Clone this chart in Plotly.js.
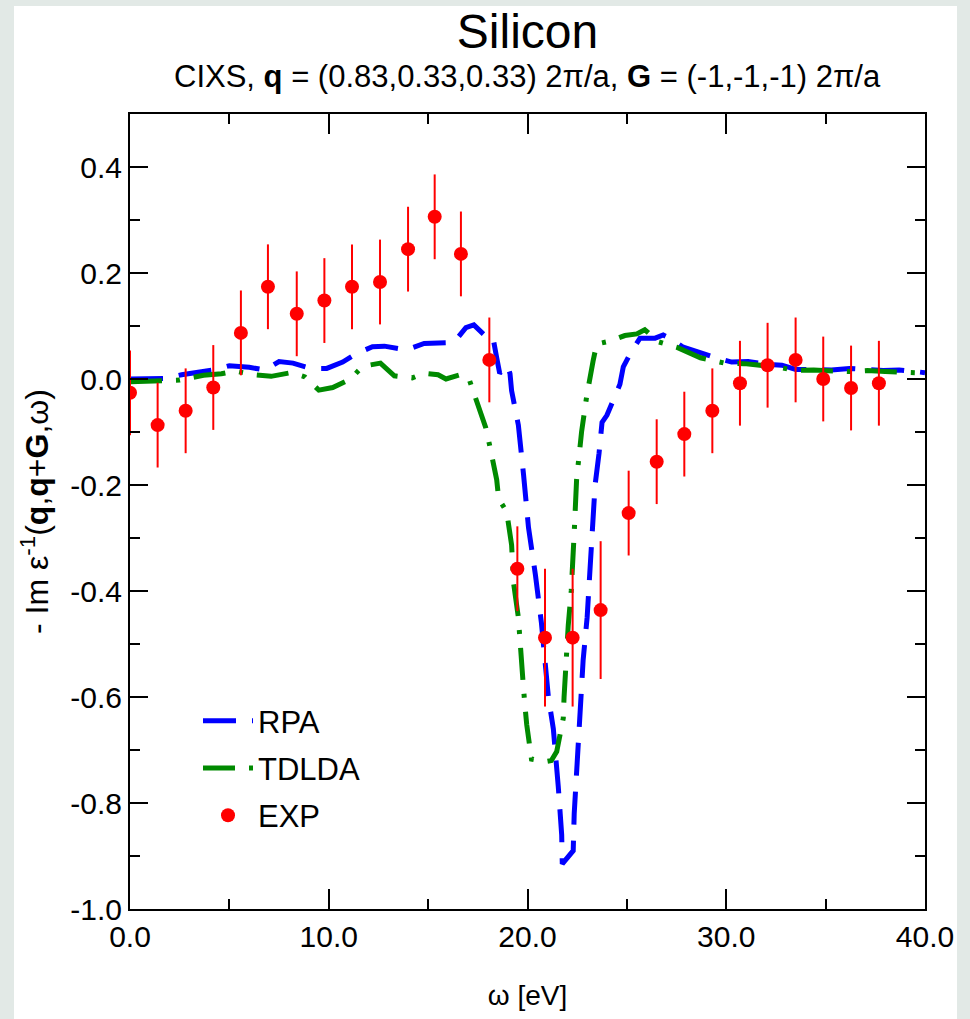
<!DOCTYPE html>
<html>
<head>
<meta charset="utf-8">
<script src="https://cdn.plot.ly/plotly-3.0.1.min.js"></script>
<style>html,body{margin:0;padding:0;background:#e2e9e6;}</style>
</head>
<body>
<div id="chart" style="width:970px;height:1019px;"></div>
<script>
// ---- Data ----
const rpaX = [0.0,1.7,2.6,4.2,5.0,6.0,6.8,7.5,8.2,9.1,9.9,10.7,11.4,12.2,12.8,13.9,14.8,15.6,16.3,16.9,17.3,17.8,18.25,18.45,18.6,19.0,19.12,19.2,19.54,19.8,20.05,20.4,20.7,21.05,21.3,21.55,21.72,21.75,22.3,22.35,22.47,22.65,22.8,23.0,23.2,23.4,23.6,23.75,24.0,24.65,24.82,25.2,25.66,26.0,26.42,26.83,27.17,27.84,28.6,29.5,30.27,31.1,32.0,32.8,33.5,35.3,36.2,37.9,38.7,40.0];
const rpaY = [0.000,0.001,0.008,0.017,0.025,0.022,0.017,0.033,0.030,0.020,0.020,0.032,0.048,0.061,0.062,0.055,0.067,0.068,0.069,0.097,0.102,0.084,0.081,0.040,0.011,0.026,0.010,-0.022,-0.087,-0.180,-0.280,-0.370,-0.460,-0.600,-0.660,-0.770,-0.860,-0.915,-0.890,-0.820,-0.746,-0.650,-0.530,-0.450,-0.330,-0.200,-0.140,-0.082,-0.068,-0.010,0.023,0.050,0.077,0.078,0.077,0.083,0.077,0.060,0.050,0.040,0.032,0.033,0.028,0.026,0.018,0.017,0.020,0.016,0.017,0.012];

const tdldaX = [0.0,2.5,3.7,4.6,5.3,6.2,7.1,8.1,8.8,9.5,10.2,11.1,11.7,12.6,13.3,14.2,14.8,15.5,15.9,16.7,17.05,17.6,17.9,18.1,18.45,18.55,18.95,19.2,19.3,19.54,19.62,19.8,19.87,19.96,20.2,20.9,21.2,21.47,21.8,21.84,22.05,22.2,22.35,22.47,22.72,22.98,23.3,23.48,24.2,24.9,25.5,25.9,26.6,27.5,28.7,29.9,30.9,32.5,33.5,34.4,36.1,37.1,38.0,40.0];
const tdldaY = [-0.005,-0.002,0.007,0.010,0.015,0.008,0.005,0.012,0.004,-0.021,-0.016,0.000,0.024,0.030,0.006,0.002,0.011,0.008,0.000,0.009,0.001,-0.058,-0.092,-0.126,-0.190,-0.226,-0.250,-0.313,-0.385,-0.450,-0.500,-0.584,-0.616,-0.652,-0.717,-0.722,-0.720,-0.703,-0.640,-0.600,-0.465,-0.400,-0.290,-0.190,-0.100,-0.032,0.034,0.066,0.072,0.082,0.085,0.093,0.070,0.060,0.040,0.030,0.029,0.023,0.016,0.017,0.014,0.016,0.014,0.011];

const expX = [0.0,1.39,2.8,4.19,5.58,6.94,8.39,9.78,11.17,12.58,13.99,15.33,16.65,18.08,19.49,20.88,22.27,23.68,25.09,26.5,27.89,29.3,30.69,32.08,33.49,34.88,36.28,37.68];
const expY = [-0.026,-0.087,-0.060,-0.016,0.087,0.174,0.123,0.148,0.174,0.183,0.245,0.306,0.236,0.036,-0.358,-0.488,-0.488,-0.436,-0.253,-0.156,-0.104,-0.060,-0.008,0.026,0.036,0.000,-0.017,-0.008];
const expErr = [0.08,0.08,0.08,0.08,0.08,0.08,0.08,0.08,0.08,0.08,0.08,0.08,0.08,0.08,0.08,0.13,0.13,0.13,0.08,0.08,0.08,0.08,0.08,0.08,0.08,0.08,0.08,0.08];

const xTickVals = [0,10,20,30,40];
const xTickText = ['0.0','10.0','20.0','30.0','40.0'];
const yTickVals = [-1.0,-0.8,-0.6,-0.4,-0.2,0.0,0.2,0.4];
const yTickText = ['-1.0','-0.8','-0.6','-0.4','-0.2','0.0','0.2','0.4'];

const seriesNames = ['RPA','TDLDA','EXP'];
const titleText = 'Silicon';
const subtitleText = 'CIXS, <b>q</b> = (0.83,0.33,0.33) 2π/a, <b>G</b> = (-1,-1,-1) 2π/a';
const xTitle = 'ω [eV]';
const yTitle = '- Im ε<sup>-1</sup>(<b>q</b>,<b>q</b>+<b>G</b>,ω)';

// ---- Plot ----
const FONT = '"Liberation Sans", Arial, Helvetica, sans-serif';

const traces = [
  {x: rpaX, y: rpaY, type: 'scatter', mode: 'lines', name: seriesNames[0], legendgroup: 'a',
   line: {color: '#0000ff', width: 5, dash: '33px,16px'}},
  {x: tdldaX, y: tdldaY, type: 'scatter', mode: 'lines', name: seriesNames[1], legendgroup: 'b',
   line: {color: '#008a00', width: 5, dash: '32px,14px,4px,14px'}},
  {x: expX, y: expY, type: 'scatter', mode: 'markers', name: seriesNames[2], legendgroup: 'c',
   marker: {color: '#ff0000', size: 14},
   error_y: {type: 'data', array: expErr, visible: true, color: '#ff0000', thickness: 2, width: 0}}
];

const L = 130, R = 925, T = 114, B = 909, W = 970, H = 1019;
const pw = R - L, ph = B - T;
const px = v => (v - L) / pw;
const py = v => (B - v) / ph;

const layout = {
  width: W, height: H,
  margin: {l: L, r: W - R, t: T, b: H - B, pad: 0},
  paper_bgcolor: '#e2e9e6',
  plot_bgcolor: '#ffffff',
  font: {family: FONT, color: '#000', size: 30},
  showlegend: true,
  title: {text: titleText, font: {family: FONT, size: 48, color: '#000'},
          x: 0.5, xref: 'paper', y: 1 - 31 / H, yref: 'container', xanchor: 'center', yanchor: 'middle'},
  annotations: [
    {text: subtitleText, xref: 'paper', yref: 'paper', x: 0.5, y: py(76), xanchor: 'center', yanchor: 'middle',
     showarrow: false, font: {family: FONT, size: 31, color: '#000'}}
  ],
  shapes: [
    {type: 'rect', xref: 'paper', yref: 'paper', x0: px(14), x1: px(957), y0: py(1030), y1: py(6),
     fillcolor: '#ffffff', line: {width: 0}, layer: 'below'}
  ],
  xaxis: {
    range: [0, 40], tickmode: 'array', tickvals: xTickVals, ticktext: xTickText,
    ticks: 'inside', ticklen: 20, tickwidth: 2, tickcolor: '#000',
    minor: {tickmode: 'linear', tick0: 0, dtick: 5, ticks: 'inside', ticklen: 10, tickwidth: 2, tickcolor: '#000', showgrid: false},
    showline: true, linewidth: 2, linecolor: '#000', mirror: 'ticks',
    showgrid: false, zeroline: false,
    tickfont: {family: FONT, size: 30, color: '#000'},
    title: {text: xTitle, font: {family: FONT, size: 28, color: '#000'}, standoff: 33}
  },
  yaxis: {
    range: [-1.0, 0.5], tickmode: 'array', tickvals: yTickVals, ticktext: yTickText,
    ticks: 'inside', ticklen: 18, tickwidth: 2, tickcolor: '#000',
    minor: {tickmode: 'linear', tick0: -1, dtick: 0.1, ticks: 'inside', ticklen: 10, tickwidth: 2, tickcolor: '#000', showgrid: false},
    showline: true, linewidth: 2, linecolor: '#000', mirror: 'ticks',
    showgrid: false, zeroline: false,
    tickfont: {family: FONT, size: 30, color: '#000'},
    title: {text: yTitle, font: {family: FONT, size: 32, color: '#000'}, standoff: 12}
  },
  legend: {
    x: px(198), y: py(694), xanchor: 'left', yanchor: 'top',
    bgcolor: 'rgba(0,0,0,0)', borderwidth: 0,
    font: {family: FONT, size: 31, color: '#000'},
    tracegroupgap: 4, itemwidth: 50
  }
};

Plotly.newPlot('chart', traces, layout, {displayModeBar: false, staticPlot: true});
</script>
</body>
</html>
